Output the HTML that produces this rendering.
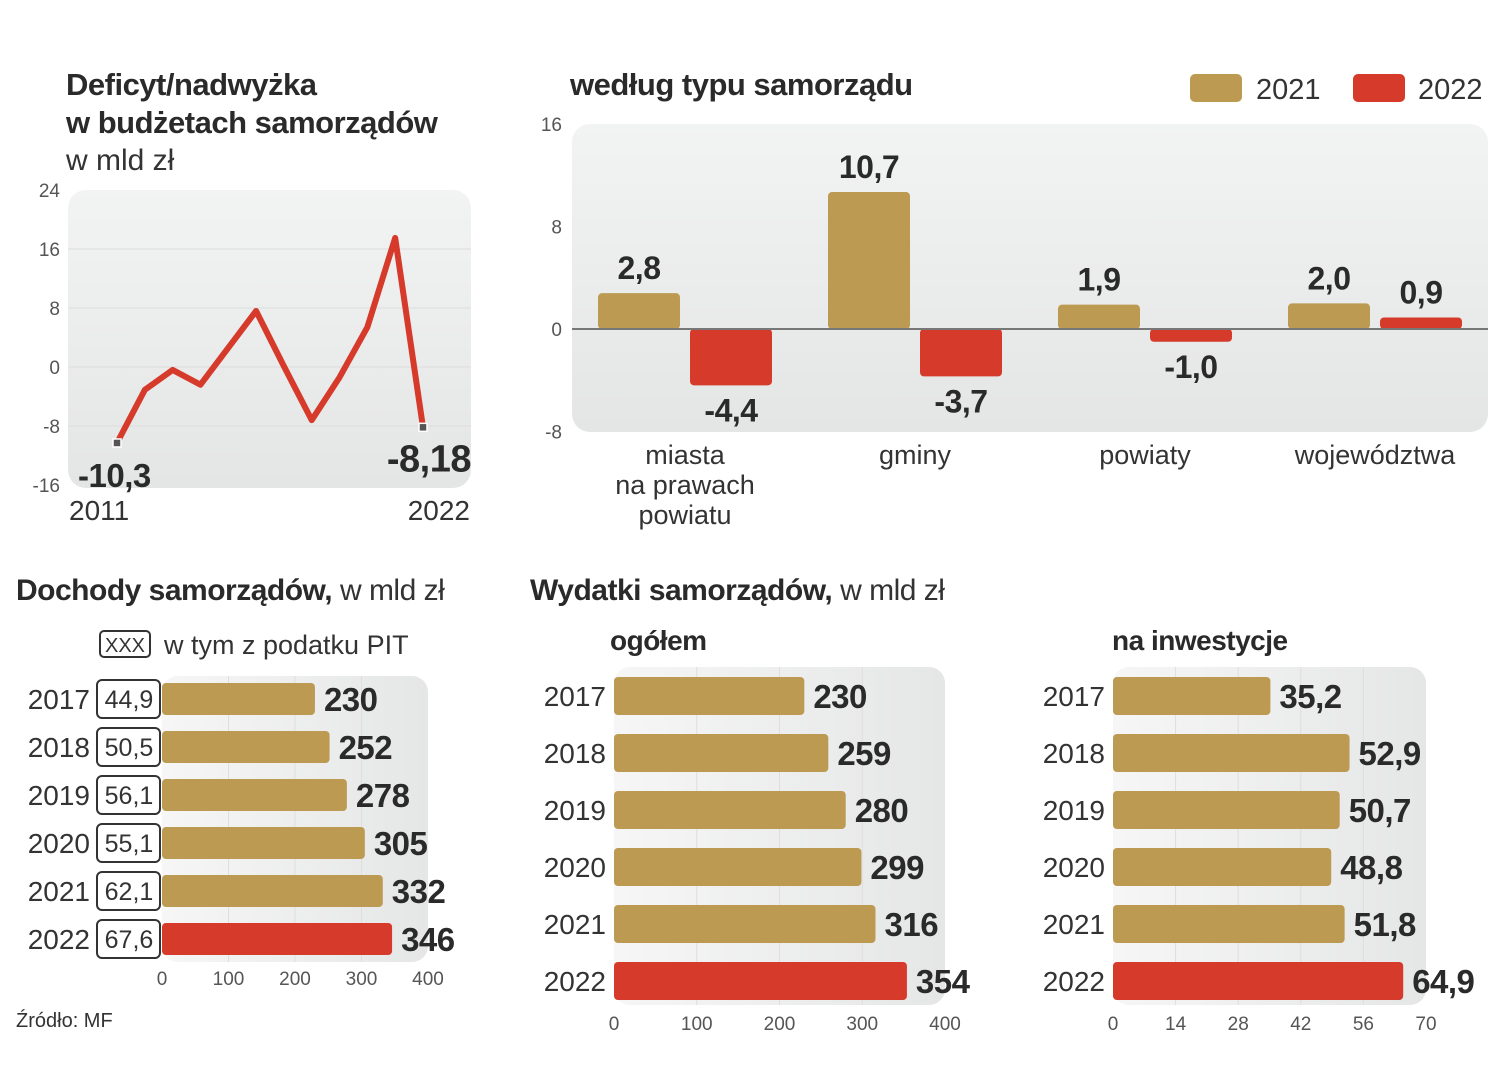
<!DOCTYPE html>
<html><head><meta charset="utf-8"><style>
body{margin:0;background:#fff;}
svg{display:block;font-family:"Liberation Sans Narrow","Liberation Sans",sans-serif;}
.t{font-weight:bold;fill:#2a2a2a;letter-spacing:-0.5px;}
.n{fill:#333;}
.tk{fill:#555;font-size:19px;}
</style></head><body>
<svg id="s" width="1509" height="1080" viewBox="0 0 1509 1080">
<defs>
<linearGradient id="pg" x1="0" y1="0" x2="0" y2="1"><stop offset="0" stop-color="#f2f3f3"/><stop offset="1" stop-color="#e4e5e5"/></linearGradient>
<linearGradient id="pgh" x1="0" y1="0" x2="1" y2="0"><stop offset="0" stop-color="#f6f6f6"/><stop offset="1" stop-color="#e5e6e6"/></linearGradient>
</defs>
<text x="66" y="95" class="t" font-size="31">Deficyt/nadwyżka</text>
<text x="66" y="133" class="t" font-size="31">w budżetach samorządów</text>
<text x="66" y="170" class="n" font-size="30">w mld zł</text>
<text x="570" y="95" class="t" font-size="31">według typu samorządu</text>
<rect x="1190" y="74" width="52" height="28" rx="5" fill="#bc9a52"/>
<text x="1256" y="99" class="n" font-size="29">2021</text>
<rect x="1353" y="74" width="52" height="28" rx="5" fill="#d63a2a"/>
<text x="1418" y="99" class="n" font-size="29">2022</text>
<text x="16" y="600" class="t" font-size="30">Dochody samorządów,<tspan class="n" font-weight="normal"> w mld zł</tspan></text>
<rect x="100" y="631" width="50" height="26" rx="4" fill="none" stroke="#333" stroke-width="2"/>
<text x="125" y="652" text-anchor="middle" class="n" font-size="20">XXX</text>
<text x="164" y="654" class="n" font-size="27">w tym z podatku PIT</text>
<text x="530" y="600" class="t" font-size="30">Wydatki samorządów,<tspan class="n" font-weight="normal"> w mld zł</tspan></text>
<text x="610" y="650" class="t" font-size="28">ogółem</text>
<text x="1112" y="650" class="t" font-size="28">na inwestycje</text>
<text x="16" y="1027" class="n" font-size="20">Źródło: MF</text>
<g id="g"></g>
</svg>
<script>
const lineYears=["2011","2012","2013","2014","2015","2016","2017","2018","2019","2020","2021","2022"];
const lineValues=[-10.3,-3.1,-0.4,-2.4,2.6,7.6,0.1,-7.2,-1.4,5.4,17.5,-8.18];
const lineTicks=[24,16,8,0,-8,-16];
const typeCats=["miasta|na prawach|powiatu","gminy","powiaty","województwa"];
const type2021=[2.8,10.7,1.9,2.0];
const type2022=[-4.4,-3.7,-1.0,0.9];
const typeTicks=[16,8,0,-8];
const barYears=["2017","2018","2019","2020","2021","2022"];
const incomeValues=[230,252,278,305,332,346];
const pitValues=["44,9","50,5","56,1","55,1","62,1","67,6"];
const incomeTicks=[0,100,200,300,400];
const spendValues=[230,259,280,299,316,354];
const spendTicks=[0,100,200,300,400];
const investValues=[35.2,52.9,50.7,48.8,51.8,64.9];
const investTicks=[0,14,28,42,56,70];

const NS="http://www.w3.org/2000/svg";
const G=document.getElementById('g');
function mk(t,a,p){const e=document.createElementNS(NS,t);for(const k in a)e.setAttribute(k,a[k]);(p||G).appendChild(e);return e;}
const fmt=v=>String(v).replace('.',',');
const GOLD="#bc9a52",RED="#d63a2a";

const lx=i=>117+i*(423-117)/(lineYears.length-1);
const ly=v=>367-v*59/8;
let e=mk('rect',{x:68,y:190,width:403,height:298,rx:18,fill:'url(#pg)'});

lineTicks.forEach(t=>{
 if(t<24&&t>-16){e=mk('line',{x1:68,x2:471,y1:ly(t),y2:ly(t),stroke:'#dcdcdc','stroke-width':1});}
 e=mk('text',{x:60,y:ly(t)+7,'text-anchor':'end',class:'tk'});e.textContent=t;
 
});
e=mk('polyline',{points:lineValues.map((v,i)=>lx(i)+','+ly(v)).join(' '),fill:'none',stroke:RED,'stroke-width':6,'stroke-linejoin':'round'});

[0,lineValues.length-1].forEach(i=>{
 e=mk('rect',{x:lx(i)-4,y:ly(lineValues[i])-4,width:8,height:8,fill:'#555',stroke:'#fff','stroke-width':1.5});
 
 e=mk('text',{x:i?471:78,y:ly(lineValues[i])+44,'text-anchor':i?'end':'start',class:'t','font-size':i?38:33});e.textContent=fmt(lineValues[i]);
 
 e=mk('text',{x:i?470:69,y:520,'text-anchor':i?'end':'start',class:'n','font-size':28});e.textContent=lineYears[i];
 
});

const by=v=>329-v*12.8;
e=mk('rect',{x:572,y:124,width:916,height:308,rx:18,fill:'url(#pg)'});

typeTicks.forEach(t=>{
 e=mk('text',{x:562,y:by(t)+7,'text-anchor':'end',class:'tk'});e.textContent=t;
 
});
typeCats.forEach((c,i)=>{
 const gx=598+i*230;
 [[type2021[i],GOLD,gx],[type2022[i],RED,gx+92]].forEach(([v,col,x])=>{
  const y0=Math.min(by(v),by(0)),h=Math.abs(by(v)-by(0));
  e=mk('rect',{x:x,y:y0,width:82,height:Math.max(h,2),rx:4,fill:col});
  
  e=mk('text',{x:x+41,y:v>=0?by(v)-14:by(v)+36,'text-anchor':'middle',class:'t','font-size':32});e.textContent=fmt(v.toFixed(1));
  
 });
 c.split('|').forEach((ln,k)=>{
  e=mk('text',{x:gx+87,y:464+k*30,'text-anchor':'middle',class:'n','font-size':27});e.textContent=ln;
  
 });
});
e=mk('line',{x1:572,x2:1488,y1:by(0),y2:by(0),stroke:'#777','stroke-width':2});


function hbar(o){
 const sx=v=>o.x0+v*(o.x1-o.x0)/o.max;
 let e=mk('rect',{x:o.x0,y:o.py0,width:o.x1-o.x0,height:o.py1-o.py0,rx:16,fill:'url(#pgh)'});
 
 o.ticks.forEach(t=>{
  if(t>0&&t<o.max){e=mk('line',{x1:sx(t),x2:sx(t),y1:o.py0,y2:o.py1,stroke:'#dedede'});}
  e=mk('text',{x:sx(t),y:o.ty,'text-anchor':'middle',class:'tk'});e.textContent=t;
  
 });
 barYears.forEach((yr,i)=>{
  const cy=o.cy0+i*o.step,v=o.vals[i];
  e=mk('rect',{x:o.x0,y:cy-o.h/2,width:sx(v)-o.x0,height:o.h,rx:4,fill:i==5?RED:GOLD});
  
  e=mk('text',{x:sx(v)+9,y:cy+12,class:'t','font-size':33});e.textContent=fmt(v);
  
  e=mk('text',{x:o.yx,y:cy+10,'text-anchor':'end',class:'n','font-size':28});e.textContent=yr;
  
 });
}
hbar({name:'income',x0:162,x1:428,max:400,vals:incomeValues,ticks:incomeTicks,cy0:699,step:48,h:32,py0:676,py1:962,ty:985,yx:90});
barYears.forEach((yr,i)=>{
 const cy=699+i*48;
 let e=mk('rect',{x:97,y:cy-19,width:63,height:38,rx:5,fill:'#fff',stroke:'#333','stroke-width':2});
 
 e=mk('text',{x:129,y:cy+9,'text-anchor':'middle',class:'n','font-size':25});e.textContent=pitValues[i];
 
});
hbar({name:'spend',x0:614,x1:945,max:400,vals:spendValues,ticks:spendTicks,cy0:696,step:57,h:38,py0:667,py1:1005,ty:1030,yx:606});
hbar({name:'invest',x0:1113,x1:1426,max:70,vals:investValues,ticks:investTicks,cy0:696,step:57,h:38,py0:667,py1:1005,ty:1030,yx:1105});
</script>
</body></html>
